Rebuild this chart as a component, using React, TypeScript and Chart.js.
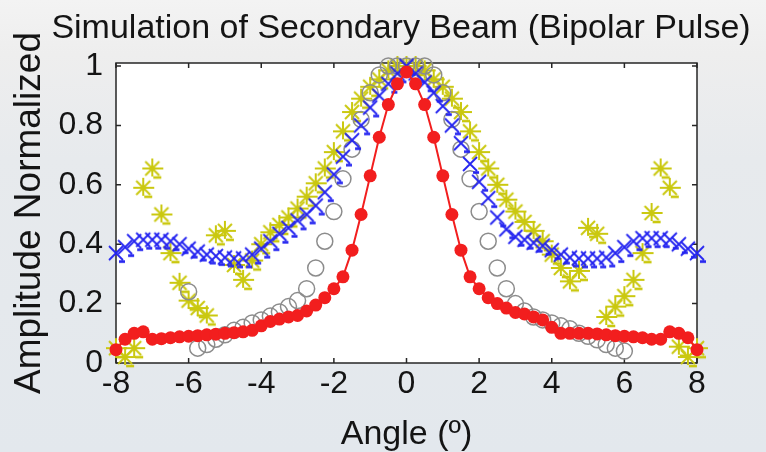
import React, { useEffect, useRef } from 'react';
import { Chart, registerables } from 'chart.js';

Chart.register(...registerables);

const TITLE = 'Simulation of Secondary Beam (Bipolar Pulse)';
const X_TITLE = 'Angle (º)';
const Y_TITLE = 'Amplitude Normalized';

const X_TICKS = [-8, -6, -4, -2, 0, 2, 4, 6, 8];
const Y_TICKS = [0, 0.2, 0.4, 0.6, 0.8, 1];

const ANGLES = [
  -8, -7.75, -7.5, -7.25, -7, -6.75, -6.5, -6.25, -6, -5.75, -5.5, -5.25, -5,
  -4.75, -4.5, -4.25, -4, -3.75, -3.5, -3.25, -3, -2.75, -2.5, -2.25, -2,
  -1.75, -1.5, -1.25, -1, -0.75, -0.5, -0.25, 0, 0.25, 0.5, 0.75, 1, 1.25,
  1.5, 1.75, 2, 2.25, 2.5, 2.75, 3, 3.25, 3.5, 3.75, 4, 4.25, 4.5, 4.75, 5,
  5.25, 5.5, 5.75, 6, 6.25, 6.5, 6.75, 7, 7.25, 7.5, 7.75, 8,
];

const GRAY_ANGLES = [
  -6, -5.75, -5.5, -5.25, -5, -4.75, -4.5, -4.25, -4, -3.75, -3.5, -3.25, -3,
  -2.75, -2.5, -2.25, -2, -1.75, -1.5, -1.25, -1, -0.75, -0.5, -0.25, 0, 0.25,
  0.5, 0.75, 1, 1.25, 1.5, 1.75, 2, 2.25, 2.5, 2.75, 3, 3.25, 3.5, 3.75, 4,
  4.25, 4.5, 4.75, 5, 5.25, 5.5, 5.75, 6,
];

const RED = [
  0.045, 0.08, 0.1, 0.105, 0.08, 0.082, 0.085, 0.088, 0.09, 0.092, 0.095, 0.097, 0.1,
  0.102, 0.105, 0.11, 0.125, 0.14, 0.148, 0.155, 0.16, 0.175, 0.195, 0.22, 0.25,
  0.29, 0.38, 0.5, 0.63, 0.76, 0.87, 0.94, 0.98, 0.94, 0.87, 0.76, 0.63, 0.5,
  0.38, 0.29, 0.25, 0.22, 0.2, 0.185, 0.17, 0.165, 0.155, 0.145, 0.12, 0.1, 0.1, 0.1, 0.1,
  0.098, 0.095, 0.092, 0.09, 0.088, 0.085, 0.08, 0.08, 0.105, 0.1, 0.085, 0.045,
];

const BLUE = [
  0.37, 0.39, 0.41, 0.415, 0.415, 0.415, 0.41, 0.4, 0.385, 0.375, 0.365, 0.36, 0.355,
  0.352, 0.352, 0.365, 0.385, 0.41, 0.435, 0.455, 0.48, 0.5, 0.53, 0.575, 0.635,
  0.695, 0.75, 0.8, 0.86, 0.9, 0.94, 0.975, 1.0, 0.975, 0.945, 0.91, 0.865, 0.8,
  0.74, 0.67, 0.61, 0.555, 0.49, 0.45, 0.425, 0.415, 0.405, 0.395, 0.38, 0.365, 0.355, 0.352, 0.352,
  0.352, 0.355, 0.37, 0.39, 0.41, 0.42, 0.42, 0.42, 0.415, 0.4, 0.385, 0.37,
];

const GRAY = [
  0.24, 0.05, 0.062, 0.08, 0.095, 0.11, 0.12, 0.135, 0.145, 0.158, 0.172, 0.19, 0.21,
  0.25, 0.32, 0.41, 0.51, 0.62, 0.72, 0.82, 0.91, 0.97, 1.0, 1.0, 1.0, 1.0,
  1.0, 0.97, 0.91, 0.82, 0.72, 0.62, 0.51, 0.41, 0.32, 0.25, 0.2, 0.175, 0.155, 0.145, 0.135,
  0.125, 0.115, 0.1, 0.09, 0.078, 0.062, 0.05, 0.04,
];

const YELLOW = [
  0.05, 0.02, 0.05, 0.59, 0.655, 0.5, 0.37, 0.27, 0.21, 0.185, 0.16, 0.43, 0.445,
  0.33, 0.28, 0.345, 0.4, 0.44, 0.465, 0.49, 0.52, 0.56, 0.605, 0.655, 0.71,
  0.78, 0.845, 0.89, 0.93, 0.955, 0.985, 1.0, 1.0, 1.0, 0.985, 0.955, 0.93, 0.89,
  0.845, 0.78, 0.71, 0.655, 0.6, 0.55, 0.51, 0.475, 0.445, 0.41, 0.365, 0.32, 0.275, 0.31, 0.455,
  0.435, 0.155, 0.19, 0.225, 0.28, 0.37, 0.505, 0.655, 0.59, 0.055, 0.02, 0.05,
];

const FONT = "'Liberation Sans', Arial, sans-serif";
const TEXT = '#141414';
const RED_C = 'rgb(242,30,30)';
const BLUE_C = 'rgb(35,35,240)';
const GRAY_C = 'rgb(140,140,140)';
const YELLOW_C = 'rgb(202,200,15)';

// marker glyphs (MATLAB-like 'x' and '*' with the small dash seen in the figure)
function makeCross(color: string) {
  const c = document.createElement('canvas');
  c.width = 34;
  c.height = 34;
  const g = c.getContext('2d')!;
  const m = 17;
  g.strokeStyle = color;
  g.lineCap = 'butt';
  g.lineWidth = 1.8;
  g.beginPath();
  g.moveTo(m - 7, m - 7);
  g.lineTo(m + 7, m + 7);
  g.moveTo(m + 7, m - 7);
  g.lineTo(m - 7, m + 7);
  g.stroke();
  g.lineWidth = 2.6;
  g.beginPath();
  g.moveTo(m + 3, m + 8.5);
  g.lineTo(m + 9, m + 8.5);
  g.stroke();
  return c;
}

function makeStar(color: string) {
  const c = document.createElement('canvas');
  c.width = 34;
  c.height = 34;
  const g = c.getContext('2d')!;
  const m = 17;
  g.strokeStyle = color;
  g.lineWidth = 2;
  g.beginPath();
  g.moveTo(m - 10, m);
  g.lineTo(m + 11, m);
  g.moveTo(m, m - 10);
  g.lineTo(m, m + 8);
  g.moveTo(m - 7, m - 7);
  g.lineTo(m + 7, m + 7);
  g.moveTo(m + 7, m - 7);
  g.lineTo(m - 7, m + 7);
  g.stroke();
  g.lineWidth = 2.6;
  g.beginPath();
  g.moveTo(m + 1, m + 9);
  g.lineTo(m + 9, m + 9);
  g.stroke();
  return c;
}

const framePlugin = {
  id: 'frame',
  beforeDatasetsDraw(chart: any) {
    const { ctx, chartArea: a, scales } = chart;
    ctx.save();
    ctx.fillStyle = '#ffffff';
    ctx.fillRect(a.left, a.top, a.right - a.left, a.bottom - a.top);
    ctx.strokeStyle = '#262626';
    ctx.lineWidth = 1.5;
    ctx.strokeRect(a.left, a.top, a.right - a.left, a.bottom - a.top);
    const tl = 5;
    ctx.beginPath();
    for (const v of X_TICKS) {
      const x = scales.x.getPixelForValue(v);
      ctx.moveTo(x, a.bottom);
      ctx.lineTo(x, a.bottom - tl);
      ctx.moveTo(x, a.top);
      ctx.lineTo(x, a.top + tl);
    }
    for (const v of Y_TICKS) {
      const y = scales.y.getPixelForValue(v);
      ctx.moveTo(a.left, y);
      ctx.lineTo(a.left + tl, y);
      ctx.moveTo(a.right, y);
      ctx.lineTo(a.right - tl, y);
    }
    ctx.stroke();
    ctx.restore();
  },
};

export default function App() {
  const ref = useRef<HTMLCanvasElement>(null);

  useEffect(() => {
    const pts = (xs: number[], ys: number[]) => xs.map((x, i) => ({ x, y: ys[i] }));
    const crossImg = makeCross(BLUE_C);
    const starImg = makeStar(YELLOW_C);
    const chart = new Chart(ref.current as HTMLCanvasElement, {
      type: 'scatter',
      data: {
        datasets: [
          {
            label: 'red',
            data: pts(ANGLES, RED),
            showLine: true,
            borderColor: RED_C,
            backgroundColor: RED_C,
            borderWidth: 2,
            pointRadius: 6.5,
            pointBorderWidth: 0,
            pointStyle: 'circle',
            clip: false,
          },
          {
            label: 'blue',
            data: pts(ANGLES, BLUE),
            showLine: false,
            borderColor: BLUE_C,
            backgroundColor: BLUE_C,
            pointRadius: 9,
            pointStyle: crossImg,
            clip: false,
          },
          {
            label: 'gray',
            data: pts(GRAY_ANGLES, GRAY),
            showLine: false,
            borderColor: GRAY_C,
            backgroundColor: 'rgba(0,0,0,0)',
            pointRadius: 8,
            pointBorderWidth: 1.5,
            pointStyle: 'circle',
            clip: false,
          },
          {
            label: 'yellow',
            data: pts(ANGLES, YELLOW),
            showLine: false,
            borderColor: YELLOW_C,
            backgroundColor: YELLOW_C,
            pointRadius: 9,
            pointStyle: starImg,
            clip: false,
          },
        ],
      },
      options: {
        responsive: false,
        animation: false,
        devicePixelRatio: 1,
        layout: { padding: { left: 36, right: 0, top: 0, bottom: 0 } },
        plugins: {
          legend: { display: false },
          tooltip: { enabled: false },
          title: {
            display: true,
            text: TITLE,
            fullSize: true,
            color: TEXT,
            font: { family: FONT, size: 34, weight: 'normal', lineHeight: 1.2 },
            padding: { top: 8, bottom: 14.2 },
          },
        },
        scales: {
          x: {
            type: 'linear',
            min: -8,
            max: 8,
            afterBuildTicks: (s: any) => {
              s.ticks = X_TICKS.map((v) => ({ value: v }));
            },
            afterFit: (s: any) => {
              s.height = 89;
            },
            grid: { display: false, drawTicks: false },
            border: { display: false },
            ticks: {
              color: TEXT,
              font: { family: FONT, size: 32 },
              padding: 2,
              maxRotation: 0,
              autoSkip: false,
              callback: (v: any) => String(v),
            },
            title: {
              display: true,
              text: X_TITLE,
              color: TEXT,
              font: { family: FONT, size: 34, lineHeight: 1 },
              padding: { top: 0, bottom: 0 },
            },
          },
          y: {
            type: 'linear',
            position: 'left',
            min: 0,
            max: 1.01,
            afterBuildTicks: (s: any) => {
              s.ticks = Y_TICKS.map((v) => ({ value: v }));
            },
            afterFit: (s: any) => {
              s.width = 80;
            },
            grid: { display: false, drawTicks: false },
            border: { display: false },
            ticks: {
              color: TEXT,
              font: { family: FONT, size: 32 },
              padding: 13,
              autoSkip: false,
              callback: (v: any) => String(v),
            },
            title: {
              display: true,
              text: Y_TITLE,
              color: TEXT,
              font: { family: FONT, size: 37, lineHeight: 1.2 },
              padding: { top: -28.2, bottom: 0 },
            },
          },
          yRight: {
            type: 'linear',
            position: 'right',
            min: 0,
            max: 1.01,
            afterFit: (s: any) => {
              s.width = 69;
            },
            grid: { display: false, drawTicks: false },
            border: { display: false },
            ticks: { display: false },
          },
        },
      },
      plugins: [framePlugin],
    } as any);
    return () => chart.destroy();
  }, []);

  return (
    <div
      style={{
        position: 'absolute',
        left: 0,
        top: 0,
        width: 766,
        height: 452,
        overflow: 'hidden',
        background:
          'linear-gradient(180deg, #f3f3f3 0%, #eeeeee 12%, #e7eaed 35%, #e3e8ed 100%)',
      }}
    >
      <canvas ref={ref} width={766} height={452} style={{ display: 'block', width: 766, height: 452 }} />
    </div>
  );
}
